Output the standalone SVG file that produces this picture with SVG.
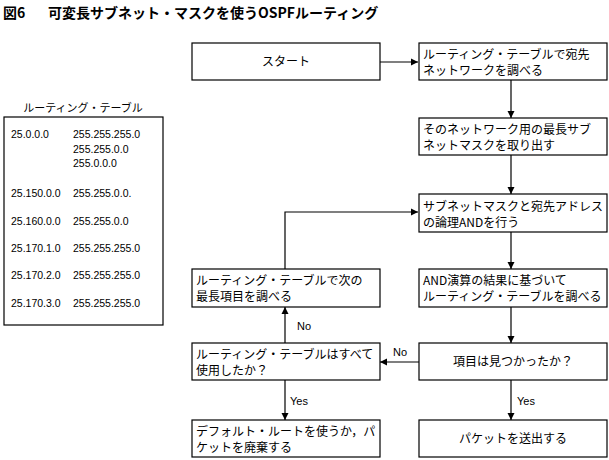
<svg xmlns="http://www.w3.org/2000/svg" width="609" height="460" viewBox="0 0 609 460">
<style>
.box{fill:#fff;stroke:#000;stroke-width:1.2}
.t{font-family:"Noto Sans CJK JP","Liberation Sans",sans-serif;font-size:12px;fill:#000}
.tc{font-family:"Noto Sans CJK JP","Liberation Sans",sans-serif;font-size:12px;fill:#000;text-anchor:middle}
.n{font-family:"Liberation Sans",Arial,sans-serif;font-size:10.5px;fill:#000}
.lbl{font-family:"Liberation Sans",Arial,sans-serif;font-size:11px;fill:#000}
.ttl{font-family:"Noto Sans CJK JP","Liberation Sans",sans-serif;font-size:14px;font-weight:bold;fill:#000}
.c{fill:none;stroke:#000;stroke-width:1.2}
</style>
<defs>
<marker id="ah" markerWidth="8" markerHeight="8" refX="7" refY="4" orient="auto" markerUnits="userSpaceOnUse">
<path d="M0,0.5 L7,4 L0,7.5 Z" fill="#000"/>
</marker>
</defs>
<rect width="609" height="460" fill="#fff"/>
<g id="title">
<text class="ttl" x="3" y="18">図6</text>
<text class="ttl" x="48" y="18">可変長サブネット・マスクを使うOSPFルーティング</text>
</g>
<g id="routing-table">
<text class="t" x="83" y="112" text-anchor="middle" style="font-size:11px">ルーティング・テーブル</text>
<rect x="4" y="117" width="159" height="208" fill="#fff" stroke="#000" stroke-width="1.2"/>
<text class="n" x="11" y="138">25.0.0.0</text>
<text class="n" x="73" y="138">255.255.255.0</text>
<text class="n" x="73" y="153">255.255.0.0</text>
<text class="n" x="73" y="167">255.0.0.0</text>
<text class="n" x="11" y="197">25.150.0.0</text>
<text class="n" x="73" y="197">255.255.0.0.</text>
<text class="n" x="11" y="225">25.160.0.0</text>
<text class="n" x="73" y="225">255.255.0.0</text>
<text class="n" x="11" y="252">25.170.1.0</text>
<text class="n" x="73" y="252">255.255.255.0</text>
<text class="n" x="11" y="279">25.170.2.0</text>
<text class="n" x="73" y="279">255.255.255.0</text>
<text class="n" x="11" y="307">25.170.3.0</text>
<text class="n" x="73" y="307">255.255.255.0</text>
</g>
<g id="connectors">
<line class="c" x1="380" y1="62" x2="418" y2="62" marker-end="url(#ah)"/>
<line class="c" x1="511" y1="80" x2="511" y2="118" marker-end="url(#ah)"/>
<line class="c" x1="511" y1="155" x2="511" y2="194" marker-end="url(#ah)"/>
<line class="c" x1="511" y1="232" x2="511" y2="269" marker-end="url(#ah)"/>
<line class="c" x1="511" y1="307" x2="511" y2="343" marker-end="url(#ah)"/>
<line class="c" x1="511" y1="380" x2="511" y2="420" marker-end="url(#ah)"/>
<line class="c" x1="419" y1="362" x2="380" y2="362" marker-end="url(#ah)"/>
<line class="c" x1="285" y1="343" x2="285" y2="307" marker-end="url(#ah)"/>
<line class="c" x1="285" y1="380" x2="285" y2="420" marker-end="url(#ah)"/>
<polyline class="c" points="285,269 285,212 418,212" marker-end="url(#ah)"/>
<text class="lbl" x="297" y="330">No</text>
<text class="lbl" x="393" y="356">No</text>
<text class="lbl" x="290" y="405">Yes</text>
<text class="lbl" x="517" y="405">Yes</text>
</g>
<g id="start">
<rect class="box" x="192" y="43" width="188" height="37"/>
<text class="tc" x="286" y="66">スタート</text>
</g>
<g id="lookup-dest">
<rect class="box" x="419" y="43" width="188" height="37"/>
<text class="t" x="423" y="59">ルーティング・テーブルで宛先</text>
<text class="t" x="423" y="75">ネットワークを調べる</text>
</g>
<g id="longest-mask">
<rect class="box" x="419" y="118" width="188" height="37"/>
<text class="t" x="423" y="134">そのネットワーク用の最長サブ</text>
<text class="t" x="423" y="150">ネットマスクを取り出す</text>
</g>
<g id="logical-and">
<rect class="box" x="419" y="194" width="188" height="38"/>
<text class="t" x="423" y="211">サブネットマスクと宛先アドレス</text>
<text class="t" x="423" y="227">の論理ANDを行う</text>
</g>
<g id="lookup-result">
<rect class="box" x="419" y="269" width="188" height="38"/>
<text class="t" x="423" y="285">AND演算の結果に基づいて</text>
<text class="t" x="423" y="301">ルーティング・テーブルを調べる</text>
</g>
<g id="next-longest">
<rect class="box" x="192" y="269" width="188" height="38"/>
<text class="t" x="196" y="285">ルーティング・テーブルで次の</text>
<text class="t" x="196" y="301">最長項目を調べる</text>
</g>
<g id="found">
<rect class="box" x="419" y="343" width="188" height="37"/>
<text class="tc" x="513" y="366">項目は見つかったか？</text>
</g>
<g id="all-used">
<rect class="box" x="192" y="343" width="188" height="37"/>
<text class="t" x="196" y="359">ルーティング・テーブルはすべて</text>
<text class="t" x="196" y="375">使用したか？</text>
</g>
<g id="default-route">
<rect class="box" x="192" y="420" width="188" height="37"/>
<text class="t" x="196" y="436">デフォルト・ルートを使うか，パ</text>
<text class="t" x="196" y="452">ケットを廃棄する</text>
</g>
<g id="send-packet">
<rect class="box" x="419" y="420" width="188" height="37"/>
<text class="tc" x="513" y="443">パケットを送出する</text>
</g>
</svg>
